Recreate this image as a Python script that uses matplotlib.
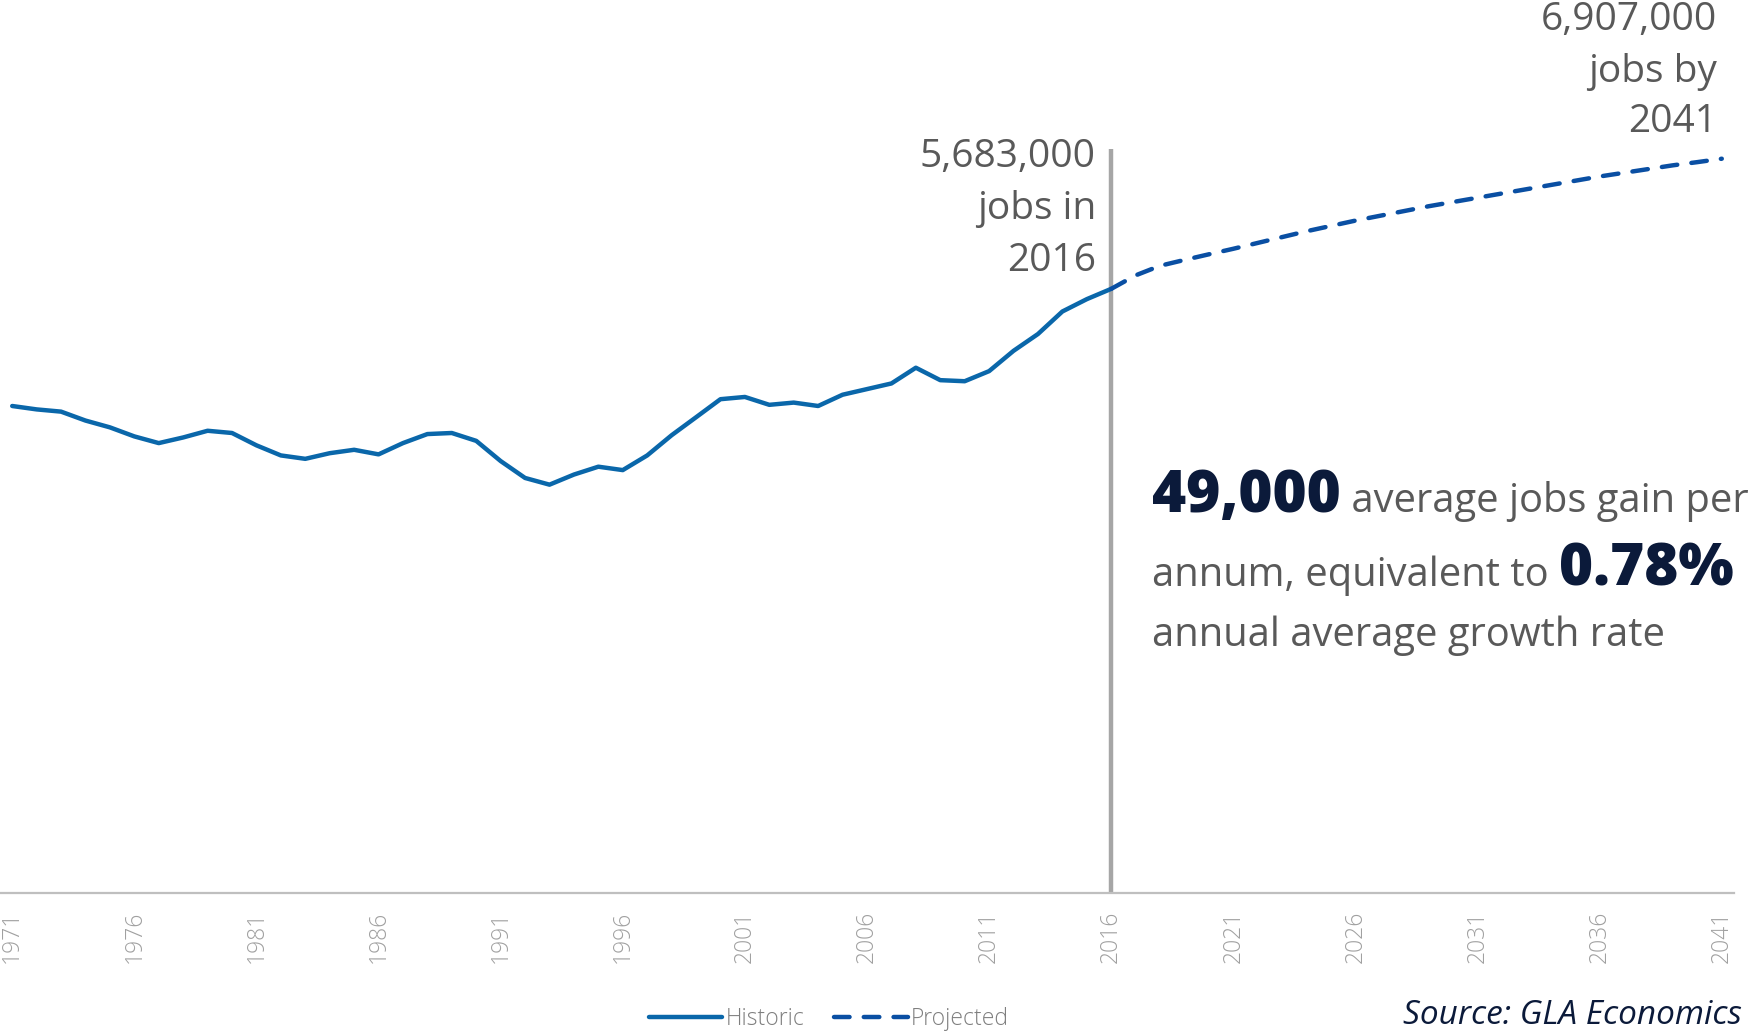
import matplotlib
matplotlib.use('Agg')
import matplotlib.pyplot as plt
from matplotlib.transforms import IdentityTransform

# historic London jobs (thousands)
years_hist = list(range(1971, 2017))
jobs_hist = [4581, 4549, 4528, 4444, 4380, 4295, 4232, 4285, 4348, 4327,
             4211, 4116, 4084, 4137, 4169, 4126, 4232, 4317, 4327, 4253,
             4063, 3904, 3841, 3936, 4010, 3978, 4116, 4306, 4475, 4645,
             4666, 4592, 4613, 4581, 4687, 4740, 4793, 4941, 4824, 4814,
             4909, 5100, 5258, 5470, 5586, 5683]

# projection (thousands)
years_proj = list(range(2016, 2042))
jobs_proj = [5683, 5810, 5900, 5955, 6008, 6060, 6115, 6170, 6225, 6275,
             6325, 6370, 6415, 6460, 6500, 6540, 6580, 6620, 6660, 6700,
             6740, 6775, 6810, 6845, 6875, 6907]

tick_years = list(range(1971, 2042, 5))

W, H = 1762, 1034
fig = plt.figure(figsize=(W / 100, H / 100), dpi=100)
ax = fig.add_axes([0.0, 1 - 893 / H, 1734 / W, 893 / H])

c_hist = '#0a67aa'
c_proj = '#0a4fa3'
grey_txt = '#595959'
navy = '#0b1a3a'
fam = ['Open Sans', 'DejaVu Sans']

ax.plot(years_hist, jobs_hist, color=c_hist, lw=3.2, solid_capstyle='round', label='Historic', zorder=3)
ax.plot(years_proj, jobs_proj, color=c_proj, lw=3.2, ls=(0, (3.5, 3.2)), dash_capstyle='round', label='Projected', zorder=3)
ax.vlines(2016, 0, 7000, color='#a6a6a6', lw=3.2, zorder=2)

ax.set_xlim(1970.5, 2041.5)
ax.set_ylim(0, 8400)
ax.set_yticks([])
ax.set_xticks(tick_years)
ax.set_xticklabels([str(y) for y in tick_years], rotation=90, fontsize=16.5,
                   color='#a0a0a0', family=fam, fontweight='light')
ax.tick_params(axis='x', length=0, pad=13)
for s in ['top', 'left', 'right']:
    ax.spines[s].set_visible(False)
ax.spines['bottom'].set_color('#bfbfbf')
ax.spines['bottom'].set_linewidth(1.6)


def put(x, y, s, **kw):
    # x, y in pixels from top-left
    return fig.text(x, H - y, s, transform=IdentityTransform(), family=fam, **kw)


# 2016 label
for yy, s in zip([157, 209, 261], ['5,683,000', 'jobs in', '2016']):
    put(1096, yy, s, ha='right', va='center', fontsize=28, color=grey_txt)

# 2041 label
for yy, s in zip([20, 72, 122], ['6,907,000', 'jobs by', '2041']):
    put(1717, yy, s, ha='right', va='center', fontsize=28, color=grey_txt)

# rich text block
renderer = fig.canvas.get_renderer()


def rich(x, y, parts):
    for s, kw in parts:
        t = put(x, y, s, va='baseline', ha='left', **kw)
        bb = t.get_window_extent(renderer=renderer)
        x += bb.width


bold = dict(fontsize=42, fontweight='heavy', color=navy)
reg = dict(fontsize=28.7, color=grey_txt)
rich(1152, 512, [('49,000', bold), (' average jobs gain per', reg)])
rich(1152, 586, [('annum, equivalent to ', reg), ('0.78%', bold)])
rich(1152, 646, [('annual average growth rate', reg)])

fig.legend(loc='center', bbox_to_anchor=(829 / W, 1 - 1019 / H), ncol=2, frameon=False,
           handlelength=3.2, handletextpad=0.15, columnspacing=1.3,
           prop={'family': fam, 'size': 16.5, 'weight': 'light'}, labelcolor='#7f7f7f')

put(1742, 1015, 'Source: GLA Economics', ha='right', va='center', fontsize=24,
    style='italic', color=navy)

fig.savefig('out.png', dpi=100)
